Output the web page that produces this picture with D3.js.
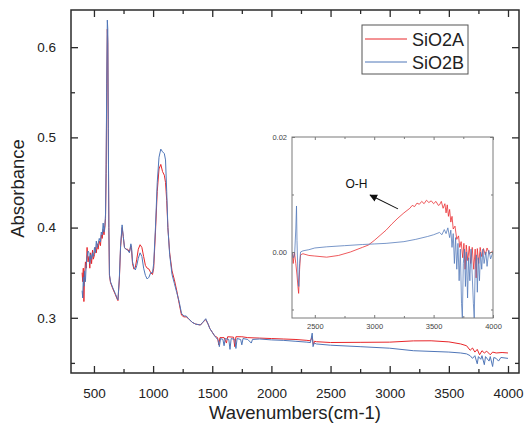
<!DOCTYPE html>
<html>
<head>
<meta charset="utf-8">
<script src="https://cdnjs.cloudflare.com/ajax/libs/d3/7.8.5/d3.min.js"></script>
<style>
  body { margin: 0; background: #fff; }
  text { font-family: "Liberation Sans", Arial, sans-serif; }
</style>
</head>
<body>
<svg id="ftir" width="525" height="428"></svg>
<script>
// main spectrum, [wavenumber, absorbance]
var sio2A = [
  [400,0.350],[405,0.340],[410,0.355],[415,0.318],[420,0.345],[428,0.362],[435,0.355],[442,0.378],[450,0.362],
  [458,0.368],[465,0.355],[472,0.372],[480,0.360],[488,0.375],[495,0.365],[505,0.370],[512,0.378],[520,0.372],
  [528,0.382],[535,0.376],[545,0.385],[555,0.380],[562,0.392],[570,0.388],[578,0.398],[585,0.392],[592,0.400],
  [598,0.410],[603,0.460],[608,0.550],[613,0.620],[617,0.605],[621,0.510],[626,0.400],[631,0.347],[640,0.339],
  [660,0.332],[680,0.326],[695,0.321],[703,0.319],[715,0.343],[725,0.378],[738,0.400],[748,0.390],[758,0.378],
  [770,0.376],[785,0.376],[800,0.373],[812,0.380],[818,0.375],[826,0.360],[838,0.354],[850,0.356],[862,0.365],
  [875,0.376],[890,0.381],[905,0.378],[920,0.368],[935,0.358],[950,0.355],[965,0.354],[980,0.350],[995,0.348],
  [1005,0.355],[1020,0.395],[1035,0.440],[1050,0.465],[1065,0.470],[1080,0.462],[1095,0.458],[1105,0.450],
  [1115,0.430],[1125,0.400],[1140,0.372],[1160,0.352],[1180,0.342],[1200,0.330],[1220,0.316],[1240,0.303],
  [1260,0.301],[1280,0.301],[1300,0.299],[1330,0.295],[1360,0.293],[1400,0.292],[1420,0.295],[1445,0.298],
  [1465,0.293],[1480,0.288],[1500,0.284],[1520,0.280],[1545,0.278],[1555,0.270],[1565,0.278],[1600,0.278],
  [1620,0.272],[1630,0.279],[1680,0.2785],[1690,0.268],[1700,0.279],[1750,0.279],[1800,0.278],[1900,0.2775],
  [2000,0.277],[2100,0.2765],[2200,0.276],[2300,0.275],[2330,0.2745],[2345,0.279],[2355,0.270],[2365,0.274],
  [2380,0.2735],[2500,0.2726],[2750,0.2728],[3000,0.273],[3200,0.2744],[3350,0.2745],[3500,0.2733],[3600,0.271],
  [3650,0.269],[3680,0.264],[3700,0.2665],[3720,0.262],[3740,0.265],[3760,0.259],[3780,0.2635],[3800,0.261],
  [3820,0.263],[3850,0.259],[3870,0.262],[3900,0.261],[3950,0.2615],[4000,0.261]
];
var sio2B = [
  [400,0.330],[405,0.322],[410,0.345],[415,0.335],[420,0.352],[428,0.340],[435,0.360],[442,0.368],[450,0.374],
  [458,0.372],[465,0.360],[472,0.370],[480,0.365],[488,0.372],[495,0.368],[505,0.378],[512,0.372],[520,0.385],
  [528,0.378],[535,0.382],[545,0.388],[555,0.384],[562,0.395],[570,0.392],[578,0.405],[585,0.395],[592,0.402],
  [598,0.415],[603,0.470],[608,0.560],[613,0.630],[617,0.620],[621,0.520],[626,0.400],[631,0.348],[640,0.340],
  [660,0.333],[680,0.327],[695,0.322],[703,0.320],[715,0.345],[725,0.380],[738,0.403],[748,0.390],[758,0.378],
  [770,0.376],[785,0.375],[800,0.372],[812,0.382],[818,0.378],[826,0.362],[838,0.356],[850,0.353],[862,0.358],
  [875,0.366],[890,0.372],[905,0.368],[920,0.355],[935,0.347],[950,0.343],[965,0.345],[980,0.350],[995,0.350],
  [1005,0.360],[1020,0.400],[1035,0.450],[1050,0.478],[1065,0.487],[1080,0.484],[1095,0.482],[1105,0.475],
  [1115,0.440],[1125,0.400],[1140,0.370],[1160,0.348],[1180,0.338],[1200,0.328],[1220,0.318],[1240,0.305],
  [1260,0.302],[1280,0.302],[1300,0.299],[1330,0.295],[1360,0.293],[1400,0.292],[1420,0.295],[1445,0.299],
  [1465,0.293],[1480,0.288],[1500,0.284],[1520,0.280],[1545,0.276],[1550,0.275],[1560,0.268],[1570,0.277],
  [1590,0.276],[1600,0.269],[1610,0.277],[1640,0.276],[1650,0.265],[1660,0.277],[1690,0.276],[1700,0.266],
  [1710,0.277],[1740,0.276],[1750,0.270],[1760,0.277],[1800,0.276],[1830,0.272],[1840,0.276],[1900,0.2765],
  [2000,0.2755],[2100,0.275],[2200,0.274],[2300,0.273],[2330,0.2725],[2345,0.283],[2352,0.268],[2362,0.272],
  [2380,0.271],[2500,0.2696],[2750,0.268],[3000,0.2663],[3200,0.2635],[3400,0.2625],[3500,0.262],[3600,0.261],
  [3650,0.260],[3680,0.258],[3700,0.255],[3720,0.258],[3740,0.249],[3750,0.257],[3770,0.254],[3780,0.258],
  [3800,0.248],[3810,0.257],[3840,0.252],[3850,0.257],[3870,0.246],[3880,0.256],[3900,0.255],[3920,0.252],
  [3940,0.256],[4000,0.255]
];
// inset, 2300-4000 region
var insetA = [
  [2310,0.0],[2318,-0.002],[2328,0.0],[2340,-0.002],[2350,-0.004],[2358,-0.006],[2364,-0.0072],[2372,-0.003],
  [2380,-0.0005],[2400,-0.0003],[2450,-0.0006],[2500,-0.0007],[2600,-0.0009],[2700,-0.0006],[2800,0.0],
  [2900,0.0008],[2950,0.0012],[3000,0.002],[3050,0.0029],[3100,0.0038],[3150,0.0049],[3200,0.0059],[3250,0.0068],
  [3300,0.0076],[3320,0.0081],[3340,0.0079],[3360,0.0085],[3380,0.0083],[3400,0.0088],[3420,0.0084],[3440,0.0090],
  [3460,0.0086],[3480,0.0089],[3500,0.0084],[3520,0.0088],[3540,0.0081],[3550,0.0082],[3565,0.0088],[3580,0.0076],
  [3595,0.0084],[3605,0.0068],[3615,0.0082],[3625,0.0062],[3635,0.0074],[3645,0.0052],[3655,0.0062],[3665,0.0040],
  [3680,0.0045],[3695,0.0022],[3710,0.0028],[3720,0.0008],[3732,0.0018],[3745,-0.001],[3755,0.0015],[3765,-0.003],
  [3775,0.0012],[3788,-0.0015],[3800,0.0010],[3812,-0.002],[3825,0.0008],[3838,-0.003],[3850,0.0005],[3858,-0.0045],
  [3868,0.0006],[3880,-0.002],[3892,0.0008],[3905,-0.0008],[3920,0.0006],[3935,-0.0005],[3950,0.0007],[3970,-0.0003],
  [4000,0.0002]
];
var insetB = [
  [2310,0.0],[2320,-0.001],[2330,-0.0005],[2340,0.004],[2346,0.008],[2350,0.002],[2358,-0.004],[2365,-0.006],
  [2372,-0.002],[2380,0.0],[2400,0.0002],[2450,0.0004],[2500,0.0007],[2600,0.0009],[2750,0.0011],[2900,0.0013],
  [3000,0.0014],[3100,0.0015],[3250,0.0018],[3350,0.0022],[3450,0.0027],[3500,0.003],[3550,0.0034],[3570,0.0030],
  [3590,0.0039],[3605,0.0032],[3620,0.0042],[3635,0.0025],[3645,0.0038],[3655,0.0008],[3665,0.0032],[3675,-0.002],
  [3685,0.0025],[3695,-0.003],[3705,0.0015],[3715,-0.005],[3725,0.0005],[3735,-0.009],[3742,-0.0115],[3750,-0.002],
  [3760,0.0005],[3768,-0.006],[3776,0.0],[3786,-0.008],[3795,-0.001],[3805,-0.005],[3815,0.0005],[3825,-0.004],
  [3835,-0.009],[3842,-0.0115],[3850,-0.003],[3860,-0.0005],[3868,-0.007],[3876,-0.001],[3886,-0.005],[3895,0.0],
  [3905,-0.003],[3915,0.0005],[3925,-0.002],[3940,0.0],[3950,-0.0025],[3965,0.0003],[3980,-0.0012],[4000,0.0]
];
var seriesNames = ["SiO2A", "SiO2B"];
var seriesColors = ["#e8262a", "#4f76b8"];
var xTicks = [500, 1000, 1500, 2000, 2500, 3000, 3500, 4000];
var yTicks = [0.3, 0.4, 0.5, 0.6];
var insetXTicks = [2500, 3000, 3500, 4000];
var insetYTicks = [0.00, 0.02];

var svg = d3.select("#ftir"),
    margin = { top: 10, right: 6, bottom: 55, left: 71 },
    width = +svg.attr("width") - margin.left - margin.right,
    height = +svg.attr("height") - margin.top - margin.bottom;

var x = d3.scaleLinear().domain([306, 4093]).range([0, width]),
    y = d3.scaleLinear().domain([0.2388, 0.6412]).range([height, 0]);

var g = svg.append("g").attr("transform", "translate(" + margin.left + "," + margin.top + ")");

g.append("clipPath").attr("id", "clip").append("rect").attr("width", width).attr("height", height);

var line = d3.line().x(d => x(d[0])).y(d => y(d[1]));

[sio2A, sio2B].forEach(function (s, i) {
    g.append("path").datum(s)
        .attr("clip-path", "url(#clip)")
        .attr("fill", "none")
        .attr("stroke", seriesColors[i])
        .attr("stroke-width", 1)
        .attr("d", line);
});

// axes, ticks inward on all sides
function minorX(sc) { return d3.range(500, 4100, 250).filter(v => v % 500 != 0 && v >= sc.domain()[0] && v <= sc.domain()[1]); }
function styleAxis(sel, col, w) {
    sel.select(".domain").remove();
    sel.selectAll("line").attr("stroke", col).attr("stroke-width", w);
}
var axCol = "#2b2b2b";
var bx = g.append("g").attr("transform", "translate(0," + height + ")")
    .call(d3.axisBottom(x).tickValues(xTicks).tickSize(-7).tickPadding(15).tickFormat(d3.format("d")));
styleAxis(bx, axCol, 1.3);
bx.selectAll("text").attr("font-size", "13.5px").attr("fill", "#222");
var bxm = g.append("g").attr("transform", "translate(0," + height + ")")
    .call(d3.axisBottom(x).tickValues(minorX(x)).tickSize(-4).tickFormat(""));
styleAxis(bxm, axCol, 1.3);
var tx = g.append("g").call(d3.axisTop(x).tickValues(xTicks).tickSize(-7).tickFormat(""));
styleAxis(tx, axCol, 1.3);
var txm = g.append("g").call(d3.axisTop(x).tickValues(minorX(x)).tickSize(-4).tickFormat(""));
styleAxis(txm, axCol, 1.3);

var ly = g.append("g").call(d3.axisLeft(y).tickValues(yTicks).tickSize(-7).tickPadding(15).tickFormat(d3.format(".1f")));
styleAxis(ly, axCol, 1.3);
ly.selectAll("text").attr("font-size", "13.5px").attr("fill", "#222");
var yMinor = [0.25, 0.35, 0.45, 0.55];
var lym = g.append("g").call(d3.axisLeft(y).tickValues(yMinor).tickSize(-4).tickFormat(""));
styleAxis(lym, axCol, 1.3);
var ry = g.append("g").attr("transform", "translate(" + width + ",0)")
    .call(d3.axisRight(y).tickValues(yTicks).tickSize(-7).tickFormat(""));
styleAxis(ry, axCol, 1.3);
var rym = g.append("g").attr("transform", "translate(" + width + ",0)")
    .call(d3.axisRight(y).tickValues(yMinor).tickSize(-4).tickFormat(""));
styleAxis(rym, axCol, 1.3);

g.append("rect").attr("width", width).attr("height", height)
    .attr("fill", "none").attr("stroke", axCol).attr("stroke-width", 1.5);

g.append("text")
    .attr("x", width / 2).attr("y", height + 46)
    .attr("text-anchor", "middle").attr("font-size", "18.5px").attr("fill", "#222")
    .text("Wavenumbers(cm-1)");
g.append("text")
    .attr("transform", "rotate(-90)")
    .attr("x", -height / 2 + 3).attr("y", -47)
    .attr("text-anchor", "middle").attr("font-size", "18.5px").attr("fill", "#222")
    .text("Absorbance");

// legend
var leg = svg.append("g").attr("transform", "translate(362,25)");
leg.append("rect").attr("width", 106).attr("height", 49)
    .attr("fill", "#fff").attr("stroke", "#555").attr("stroke-width", 1);
seriesNames.forEach(function (n, i) {
    leg.append("line").attr("x1", 3).attr("x2", 45).attr("y1", 14 + i * 23).attr("y2", 14 + i * 23)
        .attr("stroke", seriesColors[i]).attr("stroke-width", 1);
    leg.append("text").attr("x", 50).attr("y", 21 + i * 23)
        .attr("font-size", "18px").attr("fill", "#222").text(n);
});

// inset
var ins = { left: 292, top: 137, w: 201, h: 181 };
var ix = d3.scaleLinear().domain([2308, 4000]).range([0, ins.w]),
    iy = d3.scaleLinear().domain([-0.01148, 0.02]).range([ins.h, 0]);
var ig = svg.append("g").attr("transform", "translate(" + ins.left + "," + ins.top + ")");
ig.append("rect").attr("width", ins.w).attr("height", ins.h).attr("fill", "#fff");
ig.append("clipPath").attr("id", "iclip").append("rect").attr("width", ins.w).attr("height", ins.h);
var iline = d3.line().x(d => ix(d[0])).y(d => iy(d[1]));
[insetA, insetB].forEach(function (s, i) {
    ig.append("path").datum(s)
        .attr("clip-path", "url(#iclip)")
        .attr("fill", "none")
        .attr("stroke", seriesColors[i])
        .attr("stroke-opacity", 0.85)
        .attr("stroke-width", 0.9)
        .attr("d", iline);
});
var inCol = "#7a7a7a";
var iMinX = [2750, 3250, 3750];
var iMinY = [-0.01, 0.01];
var ibx = ig.append("g").attr("transform", "translate(0," + ins.h + ")")
    .call(d3.axisBottom(ix).tickValues(insetXTicks).tickSize(-3).tickPadding(6).tickFormat(d3.format("d")));
styleAxis(ibx, inCol, 1);
ibx.selectAll("text").attr("font-size", "7.5px").attr("fill", "#444");
styleAxis(ig.append("g").attr("transform", "translate(0," + ins.h + ")")
    .call(d3.axisBottom(ix).tickValues(iMinX).tickSize(-2).tickFormat("")), inCol, 1);
styleAxis(ig.append("g").call(d3.axisTop(ix).tickValues(insetXTicks).tickSize(-3).tickFormat("")), inCol, 1);
styleAxis(ig.append("g").call(d3.axisTop(ix).tickValues(iMinX).tickSize(-2).tickFormat("")), inCol, 1);
var ily = ig.append("g").call(d3.axisLeft(iy).tickValues(insetYTicks).tickSize(-3).tickPadding(5).tickFormat(d3.format(".2f")));
styleAxis(ily, inCol, 1);
ily.selectAll("text").attr("font-size", "7.5px").attr("fill", "#444");
styleAxis(ig.append("g").call(d3.axisLeft(iy).tickValues(iMinY).tickSize(-2).tickFormat("")), inCol, 1);
styleAxis(ig.append("g").attr("transform", "translate(" + ins.w + ",0)")
    .call(d3.axisRight(iy).tickValues(insetYTicks).tickSize(-3).tickFormat("")), inCol, 1);
styleAxis(ig.append("g").attr("transform", "translate(" + ins.w + ",0)")
    .call(d3.axisRight(iy).tickValues(iMinY).tickSize(-2).tickFormat("")), inCol, 1);
ig.append("rect").attr("width", ins.w).attr("height", ins.h)
    .attr("fill", "none").attr("stroke", inCol).attr("stroke-width", 1);

// O-H annotation
svg.append("defs").append("marker").attr("id", "arrow")
    .attr("viewBox", "0 0 10 10").attr("refX", 9).attr("refY", 5)
    .attr("markerWidth", 7).attr("markerHeight", 7).attr("orient", "auto")
    .append("path").attr("d", "M0,0L10,5L0,10z").attr("fill", "#111");
ig.append("line")
    .attr("x1", ix(3200)).attr("y1", iy(0.0075))
    .attr("x2", ix(2965)).attr("y2", iy(0.0099))
    .attr("stroke", "#111").attr("stroke-width", 1.1).attr("marker-end", "url(#arrow)");
ig.append("text")
    .attr("x", ix(2850)).attr("y", iy(0.0112))
    .attr("text-anchor", "middle").attr("font-size", "12px").attr("fill", "#111")
    .text("O-H");
</script>
</body>
</html>
